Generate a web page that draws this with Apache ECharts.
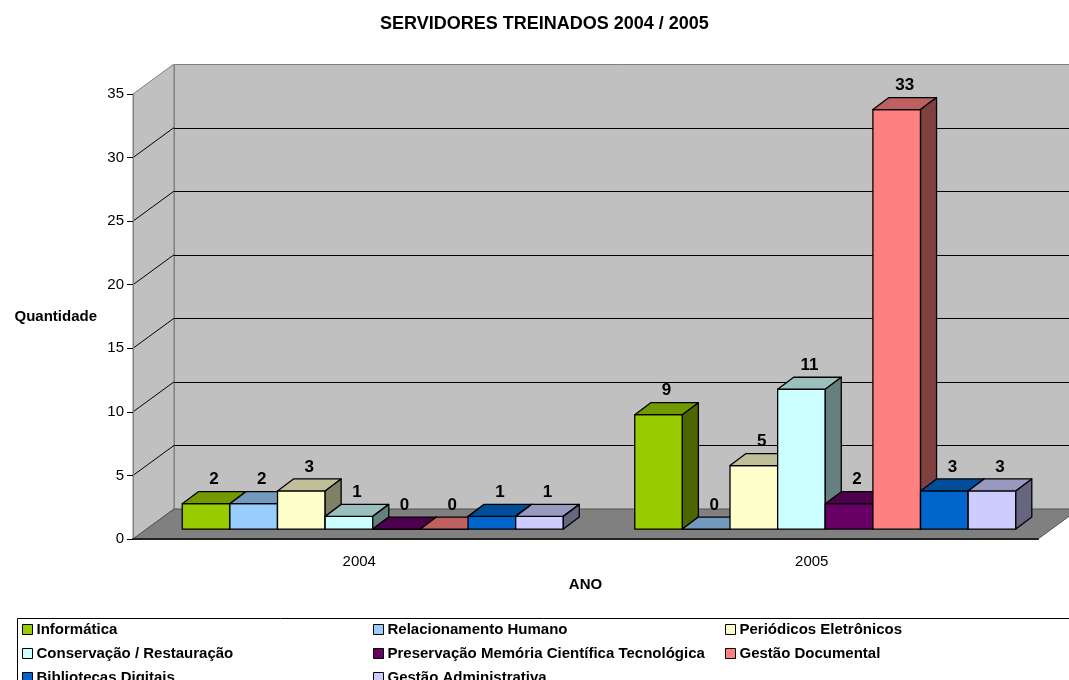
<!DOCTYPE html>
<html>
<head>
<meta charset="utf-8">
<title>Servidores treinados 2004 / 2005</title>
<script src="https://cdn.jsdelivr.net/npm/echarts@6/dist/echarts.min.js"></script>
<style>
  html, body { margin: 0; padding: 0; background: #fff; }
  #chart { width: 1069px; height: 680px; }
</style>
</head>
<body>
<div id="chart"></div>
<script>
// dados do gráfico
var anos = ['2004', '2005'];
var cursos = [
  'Informática',
  'Relacionamento Humano',
  'Periódicos Eletrônicos',
  'Conservação / Restauração',
  'Preservação Memória Científica Tecnológica',
  'Gestão Documental',
  'Bibliotecas Digitais',
  'Gestão Administrativa'
];
var valores2004 = [2, 2, 3, 1, 0, 0, 1, 1];
var valores2005 = [9, 0, 5, 11, 2, 33, 3, 3];
var eixoYMin = 0;
var eixoYMax = 35;
var eixoYPasso = 5;

var cores = ['#99cc00', '#99ccff', '#ffffcc', '#ccffff', '#660066', '#ff8080', '#0066cc', '#ccccff'];
var FONTE = '"Liberation Sans", Arial, sans-serif';
var PROF = [41, -30];        // profundidade das paredes (px)
var FRENTE_BARRA = 0.33;     // posição da face frontal das barras na profundidade
var PROF_BARRA = [16, -12];  // profundidade das barras
var GAP = 1.5;               // espaço entre grupos (em larguras de barra)

var valoresPorAno = [valores2004, valores2005];

function escurecer(hex, f) {
  var n = parseInt(hex.slice(1), 16);
  var r = Math.round(((n >> 16) & 255) * f);
  var g = Math.round(((n >> 8) & 255) * f);
  var b = Math.round((n & 255) * f);
  return 'rgb(' + r + ',' + g + ',' + b + ')';
}

function px(v) { return Math.round(v) + 0.5; }

function desenharParedes(params, api) {
  var cs = params.coordSys;
  var x0 = cs.x, x1 = cs.x + cs.width;
  var yBase = api.coord([0, eixoYMin])[1];
  var yTopo = api.coord([0, eixoYMax])[1];
  var dx = PROF[0], dy = PROF[1];
  var filhos = [];
  // parede esquerda
  filhos.push({
    type: 'polygon',
    shape: { points: [[x0, yBase], [x0, yTopo], [x0 + dx, yTopo + dy], [x0 + dx, yBase + dy]] },
    style: { fill: '#c0c0c0', stroke: '#808080', lineWidth: 1 }
  });
  // parede do fundo
  filhos.push({
    type: 'rect',
    shape: { x: px(x0 + dx), y: px(yTopo + dy), width: cs.width + 20, height: yBase - yTopo },
    style: { fill: '#c0c0c0', stroke: '#808080', lineWidth: 1 }
  });
  // linhas de grade
  for (var v = eixoYMin + eixoYPasso; v < eixoYMax; v += eixoYPasso) {
    var y = api.coord([0, v])[1];
    filhos.push({
      type: 'line',
      shape: { x1: x0, y1: y, x2: x0 + dx, y2: y + dy },
      style: { stroke: '#000', lineWidth: 1 }
    });
    filhos.push({
      type: 'line',
      shape: { x1: x0 + dx, y1: px(y + dy), x2: x1 + dx + 20, y2: px(y + dy) },
      style: { stroke: '#000', lineWidth: 1 }
    });
  }
  // piso
  filhos.push({
    type: 'polygon',
    shape: { points: [[x0, yBase], [x1, yBase], [x1 + dx, yBase + dy], [x0 + dx, yBase + dy]] },
    style: { fill: '#808080', stroke: '#505050', lineWidth: 1 }
  });
  return { type: 'group', children: filhos };
}

function desenharBarra(params, api) {
  var i = cursos.indexOf(params.seriesName);
  var cat = api.value(0), val = api.value(1);
  var base = api.coord([cat, 0]);
  var topo = api.coord([cat, val]);
  var larguraCat = api.size([1, 0])[0];
  var w = larguraCat / (cursos.length + GAP);
  var fx = PROF[0] * FRENTE_BARRA, fy = PROF[1] * FRENTE_BARRA;
  var bx = PROF_BARRA[0], by = PROF_BARRA[1];
  var xa = base[0] - w * cursos.length / 2 + i * w + fx;
  var xb = xa + w;
  var yb = base[1] + fy;
  var yt = topo[1] + fy;
  var cor = cores[i];
  var borda = { stroke: '#000', lineWidth: 1.3, lineJoin: 'round' };
  var z = i * 10;
  return {
    type: 'group',
    children: [
      {
        type: 'polygon', z2: z,
        shape: { points: [[xa, yb], [xb, yb], [xb, yt], [xa, yt]] },
        style: Object.assign({ fill: cor }, borda)
      },
      {
        type: 'polygon', z2: z + 1,
        shape: { points: [[xa, yt], [xb, yt], [xb + bx, yt + by], [xa + bx, yt + by]] },
        style: Object.assign({ fill: escurecer(cor, 0.75) }, borda)
      },
      {
        type: 'polygon', z2: z + 2,
        shape: { points: [[xb, yt], [xb + bx, yt + by], [xb + bx, yb + by], [xb, yb]] },
        style: Object.assign({ fill: escurecer(cor, 0.5) }, borda)
      },
      {
        type: 'text', z2: 200,
        x: (xa + xb + bx) / 2,
        y: yt + by - 12,
        style: {
          text: String(val),
          fill: '#000',
          fontFamily: FONTE,
          fontWeight: 'bold',
          fontSize: 17,
          align: 'center',
          verticalAlign: 'middle'
        }
      }
    ]
  };
}

var chart = echarts.init(document.getElementById('chart'));

var estiloLegenda = {
  orient: 'vertical',
  top: 622,
  height: 120,
  padding: 0,
  itemWidth: 10,
  itemHeight: 10,
  itemGap: 9,
  icon: 'rect',
  selectedMode: false,
  itemStyle: { borderColor: '#000', borderWidth: 1 },
  textStyle: { fontFamily: FONTE, fontWeight: 'bold', fontSize: 15, color: '#000', padding: [0, 0, 0, -1] }
};

var series = [{
  name: 'paredes',
  type: 'custom',
  coordinateSystem: 'cartesian2d',
  silent: true,
  z: 1,
  data: [[0, 0]],
  renderItem: desenharParedes
}];
cursos.forEach(function (nome, i) {
  series.push({
    name: nome,
    type: 'custom',
    coordinateSystem: 'cartesian2d',
    z: 3,
    itemStyle: { color: cores[i] },
    data: anos.map(function (a, j) { return [j, valoresPorAno[j][i]]; }),
    renderItem: desenharBarra
  });
});

chart.setOption({
  backgroundColor: '#fff',
  animation: false,
  title: {
    text: 'SERVIDORES TREINADOS 2004 / 2005',
    left: 375,
    top: 10,
    textStyle: { fontFamily: FONTE, fontWeight: 'bold', fontSize: 18, color: '#000' }
  },
  legend: [
    Object.assign({ left: 22, data: [cursos[0], cursos[3], cursos[6]] }, estiloLegenda),
    Object.assign({ left: 373, data: [cursos[1], cursos[4], cursos[7]] }, estiloLegenda),
    Object.assign({ left: 725, data: [cursos[2], cursos[5]] }, estiloLegenda)
  ],
  graphic: [{
    type: 'rect',
    left: 15, top: 616,
    shape: { width: 1100, height: 100 },
    style: { fill: 'none', stroke: '#000', lineWidth: 1 }
  }],
  grid: { left: 133, right: 31, top: 94, bottom: 141 },
  xAxis: {
    type: 'category',
    data: anos,
    z: 10,
    name: 'ANO',
    nameLocation: 'middle',
    nameGap: 38,
    nameTextStyle: { fontFamily: FONTE, fontWeight: 'bold', fontSize: 15, color: '#000' },
    axisLine: { lineStyle: { color: '#222', width: 2 } },
    axisTick: { length: 7, lineStyle: { color: '#000' } },
    axisLabel: { fontFamily: FONTE, fontSize: 15, color: '#000', margin: 15 },
    splitLine: { show: false }
  },
  yAxis: {
    type: 'value',
    min: eixoYMin,
    max: eixoYMax,
    interval: eixoYPasso,
    z: 10,
    name: 'Quantidade',
    nameLocation: 'middle',
    nameRotate: 0,
    nameGap: 36,
    nameTextStyle: { fontFamily: FONTE, fontWeight: 'bold', fontSize: 15, color: '#000', align: 'right', padding: [4, 0, 0, 0] },
    axisLine: { show: true, lineStyle: { color: '#808080', width: 1 } },
    axisTick: { show: true, length: 6, lineStyle: { color: '#000' } },
    axisLabel: { fontFamily: FONTE, fontSize: 15, color: '#000', margin: 9 },
    splitLine: { show: false }
  },
  series: series
});
</script>
</body>
</html>
